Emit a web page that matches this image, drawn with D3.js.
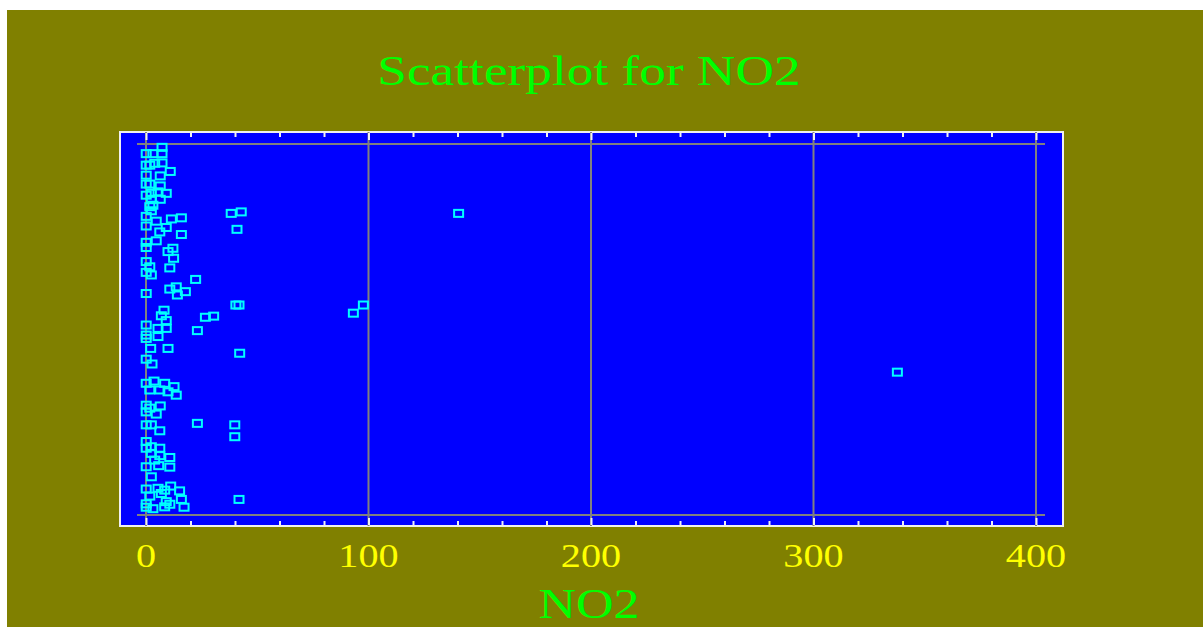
<!DOCTYPE html>
<html>
<head>
<meta charset="utf-8">
<script src="https://cdn.jsdelivr.net/npm/d3@7/dist/d3.min.js"></script>
<style>
  html, body { margin: 0; padding: 0; background: #ffffff; }
  svg { display: block; }
  text { font-family: "Liberation Serif", "DejaVu Serif", serif; }
</style>
</head>
<body>
<svg id="chart" width="1203" height="627"></svg>
<script>
// ---- data ----
const chartTitle = "Scatterplot for NO2";
const xAxisTitle = "NO2";
const xTickValues = [0, 100, 200, 300, 400];
const xTickLabels = ["0", "100", "200", "300", "400"];
const xMinorStep = 20;

// NO2 value of each observation
const no2 = [
  7.2, 0.1, 3.1, 7.2, 3.9, 0.1, 1.7, 10.9, 6.4, 0.1,
  0.1, 1.7, 6.4, 0.1, 2.4, 5.4, 9.1, 2.4, 6.4, 1.7,
  3.1, 38.3, 42.8, 140.5, 4.6, 11.4, 15.9, 0.1, 9.1, 40.9,
  6.2, 15.9, 4.6, 0.1, 0.1, 12.1, 9.9, 12.4, 0.1, 1.7,
  10.7, 0.1, 2.4, 22.3, 10.7, 13.6, 17.7, 14.1, 0.1, 40.4,
  41.8, 8.1, 6.9, 9.1, 26.7, 30.4, 93.2, 97.7, 0.1, 9.1,
  5.4, 0.1, 0.1, 5.4, 23.1, 2.1, 9.9, 42.1, 0.1, 2.7,
  337.7, 0.1, 3.6, 8.4, 12.6, 1.7, 6.2, 9.9, 13.6, 0.1,
  1.7, 6.4, 0.1, 4.6, 0.1, 2.4, 6.2, 23.1, 39.9, 39.9,
  0.1, 0.1, 2.4, 6.2, 2.4, 6.2, 10.7, 3.9, 0.1, 5.7,
  10.7, 2.4, 0.1, 5.4, 8.4, 11.1, 15.1, 1.7, 6.9, 15.9,
  0.1, 9.1, 10.7, 8.4, 17.1, 3.1, 0.1, 41.8,
  7.2, 2.4, 0.1
];
// vertical position of each observation (observation order, 0-100 scale)
const obs = [
  99.1, 97.4, 97.4, 97.4, 94.8, 94.3, 94.3, 92.6, 91.4, 91.6,
  89.2, 89.2, 88.7, 86.2, 86.7, 87.1, 86.7, 85.1, 85.1, 83.1,
  83.5, 81.3, 81.7, 81.3, 79.2, 79.8, 80.1, 77.9, 77.5, 77.0,
  76.3, 75.6, 73.9, 73.5, 72.1, 71.9, 71.0, 69.2, 68.3, 66.9,
  66.6, 65.4, 64.7, 63.5, 60.9, 61.5, 60.2, 59.3, 59.7, 56.6,
  56.6, 55.2, 53.7, 52.4, 53.3, 53.6, 54.4, 56.6, 51.2, 50.3,
  50.3, 48.5, 47.6, 48.1, 49.7, 44.9, 44.9, 43.6, 42.0, 40.7,
  38.5, 35.5, 36.1, 35.5, 34.6, 33.7, 33.7, 33.2, 32.3, 29.6,
  28.8, 29.4, 27.8, 27.2, 24.3, 24.3, 22.7, 24.7, 24.3, 21.1,
  19.8, 18.0, 18.4, 18.0, 16.6, 16.0, 15.5, 14.8, 13.0, 13.3,
  12.9, 10.3, 7.0, 7.2, 6.7, 7.8, 6.5, 5.1, 5.8, 4.2,
  3.0, 3.6, 2.9, 2.2, 2.1, 1.7, 2.1, 4.2,
  94.9, 82.0, 80.5
];

// ---- layout ----
const svg = d3.select("#chart");
const frame = { x0: 120, y0: 132, x1: 1063, y1: 526 };
const x = d3.scaleLinear().domain([0, 400]).range([146, 1036]);
const y = d3.scaleLinear().domain([0, 100]).range([515, 144]);
const stretch = 1.24;

// olive background
svg.append("rect").attr("x", 7).attr("y", 10).attr("width", 1196).attr("height", 617)
  .attr("fill", "#808000");

function stretchedText(txt, cx, baseline, size, color, sx) {
  svg.append("text")
    .attr("transform", `translate(${cx},${baseline}) scale(${sx},1)`)
    .attr("text-anchor", "middle")
    .attr("font-size", size)
    .attr("fill", color)
    .text(txt);
}
// title
stretchedText(chartTitle, 589, 85, 43, "#00ff00", stretch);

// plot frame
svg.append("rect")
  .attr("x", frame.x0).attr("y", frame.y0)
  .attr("width", frame.x1 - frame.x0).attr("height", frame.y1 - frame.y0)
  .attr("fill", "#0000ff").attr("stroke", "#f0f0f0").attr("stroke-width", 2);

// vertical grid lines
svg.append("g").selectAll("line").data(xTickValues).join("line")
  .attr("x1", d => x(d)).attr("x2", d => x(d))
  .attr("y1", frame.y0).attr("y2", frame.y1)
  .attr("stroke", "#808080").attr("stroke-width", 2);

// horizontal lines at y range ends
svg.append("g").selectAll("line").data(y.domain()).join("line")
  .attr("x1", 137).attr("x2", 1045)
  .attr("y1", d => y(d)).attr("y2", d => y(d))
  .attr("stroke", "#808080").attr("stroke-width", 2);

// ticks (inward, top and bottom) via d3 axes
const minorTicks = d3.range(0, 400 + 0.001, xMinorStep).filter(v => v % 100 !== 0);
function drawTicks(vals, len) {
  const bottom = d3.axisTop(x).tickValues(vals).tickSize(len).tickFormat("");
  const top = d3.axisBottom(x).tickValues(vals).tickSize(len).tickFormat("");
  const gb = svg.append("g").attr("transform", `translate(0,${frame.y1 - 1})`).call(bottom);
  const gt = svg.append("g").attr("transform", `translate(0,${frame.y0 + 1})`).call(top);
  [gb, gt].forEach(g => {
    g.select(".domain").remove();
    g.selectAll("line").attr("stroke", "#f0f0f0").attr("stroke-width", 2);
  });
}
drawTicks(minorTicks, 4);
drawTicks(xTickValues, 7);

// tick labels
xTickValues.forEach((v, i) => {
  stretchedText(xTickLabels[i], x(v), 567, 33, "#ffff00", 1.22);
});

// axis title
stretchedText(xAxisTitle, 589, 618, 42, "#00ff00", stretch);

// points: open cyan squares
const pts = no2.map((v, i) => ({ v, o: obs[i] }));
svg.append("g").selectAll("rect").data(pts).join("rect")
  .attr("x", d => x(d.v) - 4.5)
  .attr("y", d => y(d.o) - 3.5)
  .attr("width", 9).attr("height", 7)
  .attr("fill", "none")
  .attr("stroke", "#00ffff").attr("stroke-width", 2);
</script>
</body>
</html>
